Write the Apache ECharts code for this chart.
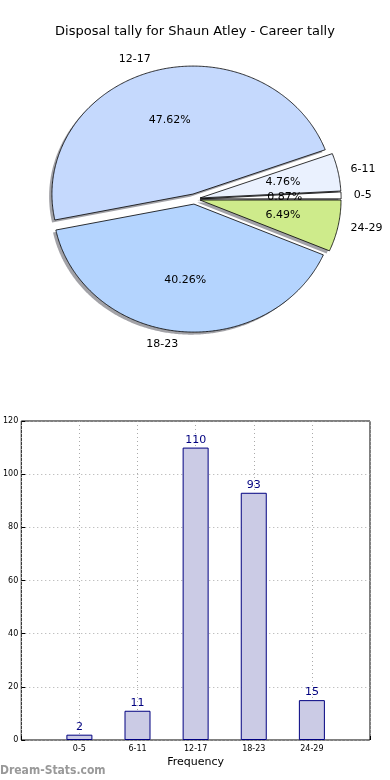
<!DOCTYPE html>
<html>
<head>
<meta charset="utf-8">
<script src="https://cdn.jsdelivr.net/npm/echarts@6/dist/echarts.min.js"></script>
<style>html,body{margin:0;padding:0;background:#fff;}#c{width:390px;height:780px;}</style>
</head>
<body>
<div id="c"></div>
<script>
var titleText = 'Disposal tally for Shaun Atley - Career tally';
var categories = ['0-5', '6-11', '12-17', '18-23', '24-29'];
var counts = [2, 11, 110, 93, 15];
var pieColors = ['#ffffff', '#eaf1fe', '#c5d9fd', '#b4d4fe', '#ceeb8b'];
var yTicks = [0, 20, 40, 60, 80, 100, 120];

var FONT = 'DejaVu Sans';
var EXPLODE = 0.04;
var total = counts.reduce(function (a, b) { return a + b; }, 0);

// pie drawn in its own cartesian grid (unit radius) so it can be elliptical like the original
var PCX = 194.5, PCY = 199, RX = 141, RY = 128, EXT = 1.35;

function renderSlice(params, api) {
  var i = params.dataIndex;
  var before = 0;
  for (var k = 0; k < i; k++) before += counts[k];
  var t1 = 2 * Math.PI * before / total;
  var t2 = 2 * Math.PI * (before + counts[i]) / total;
  var tm = (t1 + t2) / 2;
  var ox = EXPLODE * Math.cos(tm), oy = EXPLODE * Math.sin(tm);
  function pts(dx, dy) {
    var p = [api.coord([ox + dx, oy + dy])];
    var n = Math.max(2, Math.ceil((t2 - t1) / 0.01));
    for (var j = 0; j <= n; j++) {
      var t = t1 + (t2 - t1) * j / n;
      p.push(api.coord([ox + dx + Math.cos(t), oy + dy + Math.sin(t)]));
    }
    return p;
  }
  var lbl = api.coord([ox + 1.09 * Math.cos(tm), oy + 1.1 * Math.sin(tm)]);
  var pct = api.coord([ox + 0.6 * Math.cos(tm), oy + 0.6 * Math.sin(tm)]);
  var right = Math.cos(tm) > 0;
  return {
    type: 'group',
    children: [
      { type: 'polygon', z2: 1, shape: { points: pts(-0.02, -0.02) },
        style: { fill: 'rgba(70,70,80,0.5)', stroke: null } },
      { type: 'polygon', z2: 10, shape: { points: pts(0, 0) },
        style: { fill: pieColors[i], stroke: '#000', lineWidth: 0.8 } },
      { type: 'text', z2: 20, x: pct[0], y: pct[1],
        style: { text: (100 * counts[i] / total).toFixed(2) + '%', align: 'center', verticalAlign: 'middle',
          fontFamily: FONT, fontSize: 11, fill: '#000' } },
      { type: 'text', z2: 20, x: lbl[0], y: lbl[1],
        style: { text: categories[i], align: right ? 'left' : 'right', verticalAlign: 'middle',
          fontFamily: FONT, fontSize: 11, fill: '#000' } }
    ]
  };
}

var chart = echarts.init(document.getElementById('c'), null, { renderer: 'canvas' });
chart.setOption({
  animation: false,
  backgroundColor: '#fff',
  title: {
    text: titleText, left: 'center', top: 20,
    textStyle: { fontFamily: FONT, fontSize: 13, fontWeight: 'normal', color: '#000' }
  },
  grid: [{
    left: 19, right: 20, top: 421, bottom: 40, show: true,
    borderColor: '#000', borderWidth: 1, backgroundColor: 'transparent'
  }, {
    left: PCX - EXT * RX, top: PCY - EXT * RY, width: 2 * EXT * RX, height: 2 * EXT * RY, show: false
  }],
  xAxis: [{
    gridIndex: 0, type: 'value', min: 0, max: 6, interval: 1,
    axisLine: { show: false },
    axisTick: { show: true, inside: true, length: 4, lineStyle: { color: '#000' } },
    axisLabel: {
      fontFamily: FONT, fontSize: 8, color: '#000', margin: 5,
      formatter: function (v) { return categories[v - 1] || ''; }
    },
    splitLine: { show: true, lineStyle: { type: [1, 3], color: '#aaa', width: 1 } },
    name: 'Frequency', nameLocation: 'middle', nameGap: 17,
    nameTextStyle: { fontFamily: FONT, fontSize: 11, color: '#000' }
  }, {
    gridIndex: 1, type: 'value', min: -EXT, max: EXT, show: false
  }],
  yAxis: [{
    gridIndex: 0, type: 'value', min: yTicks[0], max: yTicks[yTicks.length - 1], interval: 20,
    axisLine: { show: false },
    axisTick: { show: true, inside: true, length: 4, lineStyle: { color: '#000' } },
    axisLabel: { fontFamily: FONT, fontSize: 8, color: '#000', margin: 3 },
    splitLine: { show: true, lineStyle: { type: [1, 3], color: '#aaa', width: 1 } }
  }, {
    gridIndex: 1, type: 'value', min: -EXT, max: EXT, show: false
  }],
  graphic: [{
    type: 'text', left: 0, top: 765,
    style: { text: 'Dream-Stats.com', fill: '#999', font: 'bold 12px "DejaVu Sans Condensed", "DejaVu Sans"' }
  }],
  series: [
    {
      type: 'custom', xAxisIndex: 1, yAxisIndex: 1, silent: true,
      coordinateSystem: 'cartesian2d',
      data: counts.map(function (v, i) { return [i, v]; }),
      renderItem: renderSlice,
      clip: false
    },
    {
      type: 'bar', xAxisIndex: 0, yAxisIndex: 0, barWidth: 26,
      data: counts.map(function (v, i) { return [i + 1, v]; }),
      itemStyle: { color: '#cbcbe5', borderColor: '#000080', borderWidth: 1 },
      label: {
        show: true, position: 'top', distance: 2,
        fontFamily: FONT, fontSize: 11, color: '#000080',
        formatter: function (p) { return p.value[1]; }
      },
      emphasis: { disabled: true }, silent: true
    }
  ]
});
</script>
</body>
</html>
